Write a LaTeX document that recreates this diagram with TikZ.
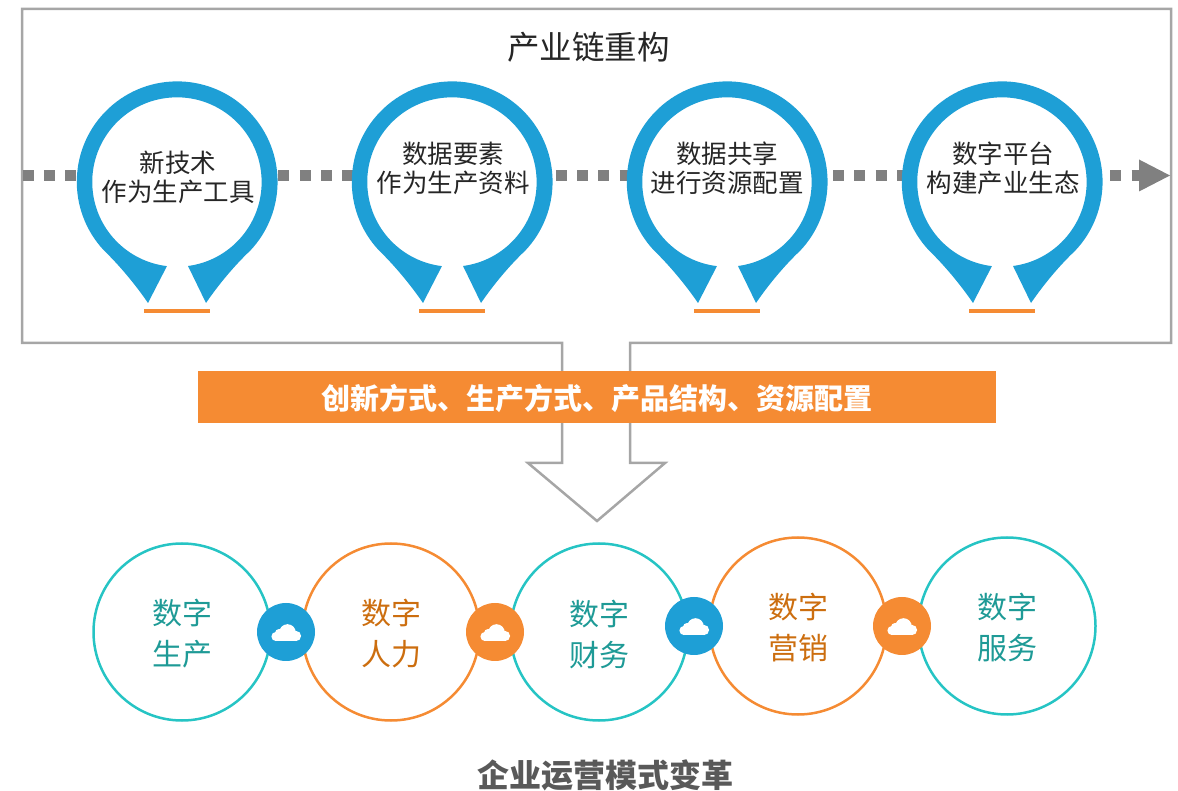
\documentclass[tikz,border=0pt]{standalone}
\usepackage{fontspec}
\setmainfont{Noto Sans CJK SC}
\definecolor{pinblue}{HTML}{1E9FD6}
\definecolor{barorange}{HTML}{F58B33}
\definecolor{frameg}{HTML}{A6A6A6}
\definecolor{dashg}{HTML}{808080}
\definecolor{teal1}{HTML}{26C4C4}
\definecolor{tealtx}{HTML}{1E9A96}
\definecolor{orgtx}{HTML}{CC6E0F}
\tikzset{
  x=1pt,y=1pt,
  pinlabel/.style={align=center,font=\fontsize{25.5}{29}\selectfont,text=black!85,inner sep=0pt},
  ringlabel/.style={align=center,inner sep=0pt,font=\fontsize{30}{41}\selectfont},
  ringT/.style={circle,draw=teal1,line width=2.5pt,minimum size=177pt,inner sep=0pt},
  ringO/.style={circle,draw=barorange,line width=2.5pt,minimum size=177pt,inner sep=0pt},
  dotB/.style={circle,fill=pinblue,minimum size=58pt,inner sep=0pt},
  dotO/.style={circle,fill=barorange,minimum size=58pt,inner sep=0pt},
}
\newcommand{\pinshape}[1]{%
  \begin{scope}[shift={(#1,608)}]
    \fill[pinblue,even odd rule] (-29,-121) .. controls (-42,-102) and (-58,-83) .. (-73,-68.5)
      arc[start angle=223.2,end angle=-43.2,radius=100.4]
      .. controls (58,-83) and (42,-102) .. (29,-121) -- (11,-84)
      arc[start angle=-82.5,end angle=263.2,radius=84.7] -- cycle;
    \fill[barorange] (-33,-131) rectangle (33,-127);
  \end{scope}}
\newcommand{\cloudicon}[1]{%
  \begin{scope}[shift={(#1)}]
    \fill[white] (-10,-4.5) circle[radius=4.6] (1.5,-0.5) circle[radius=8.3]
      (10,-4) circle[radius=5.1] (-7,-1) circle[radius=4];
    \fill[white] (-10,-9.1) rectangle (10,-3);
  \end{scope}}
\begin{document}
\begin{tikzpicture}
\useasboundingbox (0,0) rectangle (1178,790);
% frame and big arrow
\draw[frameg,line width=2.5pt,line join=miter] (562,447) -- (22,447) -- (22,781) -- (1171,781) -- (1171,447) -- (630,447)
  -- (630,327) -- (665,327) -- (597,269) -- (528,327) -- (562,327) -- cycle;
% dotted axis
\fill[dashg] (1139,630.5) -- (1170,614.5) -- (1139,598.5) -- cycle;
\draw[dashg,line width=11pt,dash pattern=on 11pt off 10.33pt] (22.5,614.5) -- (1145,614.5);
% pins
\foreach \cx in {177,452,727,1002}{\fill[white] (\cx,608) circle[radius=90];\pinshape{\cx}}
\node[pinlabel] (p1) at (178,613) {新技术\\作为生产工具};
\node[pinlabel] (p2) at (453,622) {数据要素\\作为生产资料};
\node[pinlabel] (p3) at (727,622) {数据共享\\进行资源配置};
\node[pinlabel] (p4) at (1003,622) {数字平台\\构建产业生态};
\node[inner sep=0pt,font=\fontsize{32.5}{32}\selectfont,text=black!85] (title) at (588.5,743) {产业链重构};
% band
\node[fill=barorange,minimum width=798pt,minimum height=52pt,inner sep=0pt] (band) at (597,393) {};
\node[inner sep=0pt,text=white,font=\fontsize{29}{29}\selectfont\bfseries] (bandtext) at (597,392) {创新方式、生产方式、产品结构、资源配置};
% rings
\node[ringT] (r1) at (182,158) {};
\node[ringO] (r2) at (391,158) {};
\node[ringT] (r3) at (599,158) {};
\node[ringO] (r4) at (798,164) {};
\node[ringT] (r5) at (1007,164) {};
\node[ringlabel,text=tealtx] (t1) at (182,156) {数字\\生产};
\node[ringlabel,text=orgtx] (t2) at (391,156) {数字\\人力};
\node[ringlabel,text=tealtx] (t3) at (599,156) {数字\\财务};
\node[ringlabel,text=orgtx] (t4) at (798,162) {数字\\营销};
\node[ringlabel,text=tealtx] (t5) at (1007,162) {数字\\服务};
\node[dotB] (d1) at (286,158) {};
\node[dotO] (d2) at (495,158) {};
\node[dotB] (d3) at (694,164) {};
\node[dotO] (d4) at (902,164) {};
\cloudicon{d1.center}\cloudicon{d2.center}\cloudicon{d3.center}\cloudicon{d4.center}
\node[inner sep=0pt,font=\fontsize{32}{32}\selectfont\bfseries,text=black!65] (foot) at (605.5,15) {企业运营模式变革};
\end{tikzpicture}
\end{document}
